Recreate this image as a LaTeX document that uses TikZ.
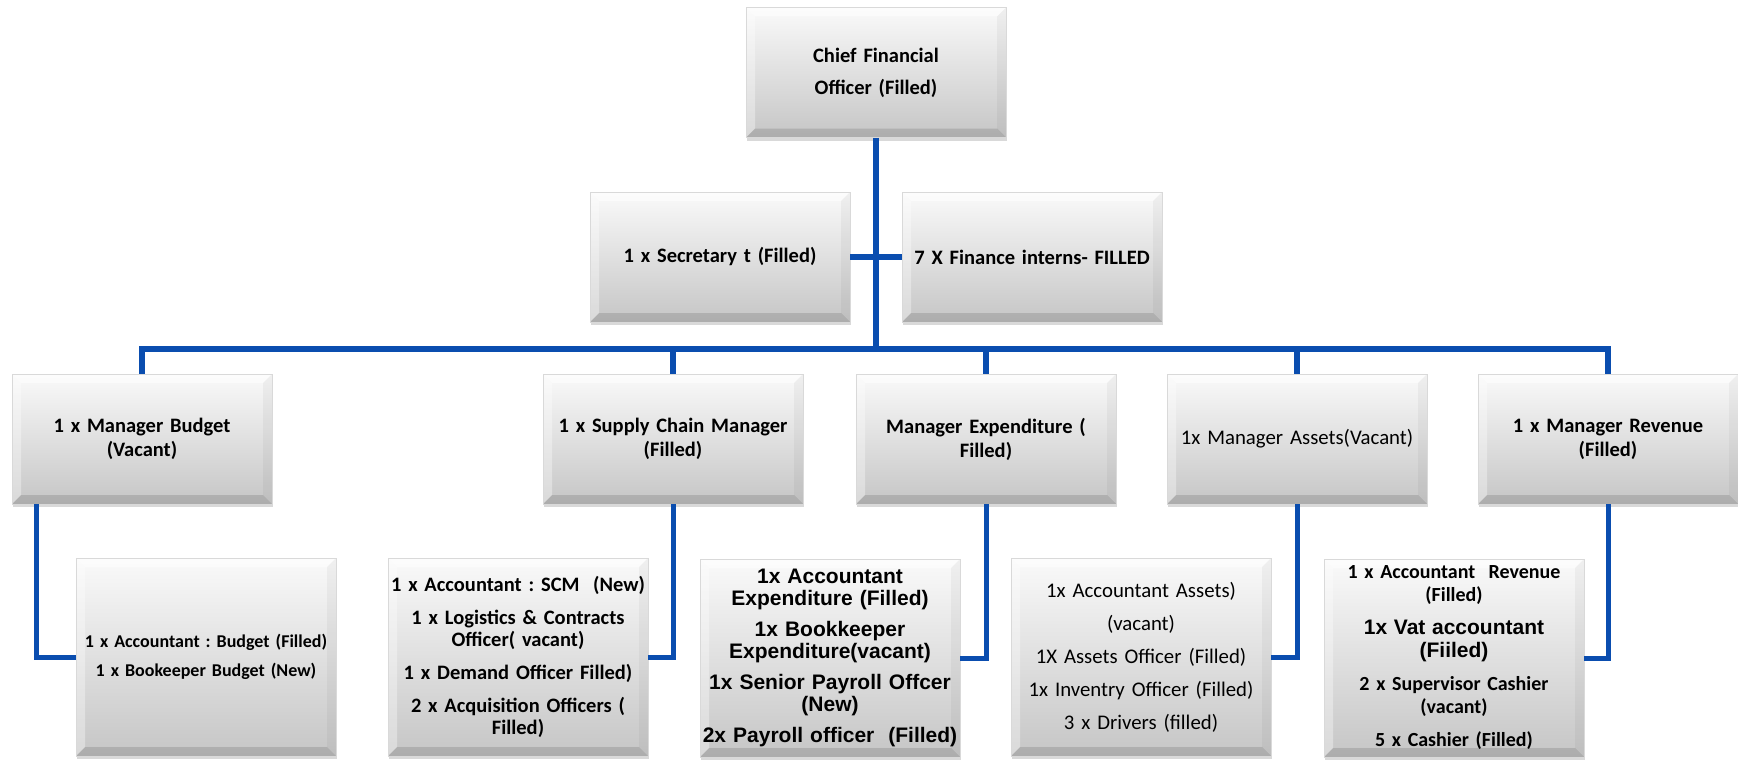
\documentclass[tikz,border=0pt]{standalone}
\usepackage{fontspec}
\setmainfont{Carlito}
\newfontfamily\arialfont{Liberation Sans}
\usetikzlibrary{shadows,calc}
\frenchspacing
\definecolor{linkblue}{HTML}{0A4DAF}
\tikzset{
  orgbox/.style={rectangle, draw=gray!30, line width=0.6pt,
    top color=gray!4, bottom color=gray!45,
    minimum width=260pt, minimum height=130pt, inner sep=0pt,
    align=center, text width=258pt,
    drop shadow={shadow xshift=1pt, shadow yshift=-3pt, opacity=0.3, fill=gray},
    path picture={
      \fill[white,opacity=0.5] (path picture bounding box.north west) -- (path picture bounding box.north east)
        -- ([xshift=-9pt,yshift=-9pt]path picture bounding box.north east) -- ([xshift=9pt,yshift=-9pt]path picture bounding box.north west) -- cycle;
      \fill[white,opacity=0.35] (path picture bounding box.north west) -- (path picture bounding box.south west)
        -- ([xshift=9pt,yshift=9pt]path picture bounding box.south west) -- ([xshift=9pt,yshift=-9pt]path picture bounding box.north west) -- cycle;
      \fill[black,opacity=0.04] (path picture bounding box.north east) -- (path picture bounding box.south east)
        -- ([xshift=-9pt,yshift=9pt]path picture bounding box.south east) -- ([xshift=-9pt,yshift=-9pt]path picture bounding box.north east) -- cycle;
      \fill[black,opacity=0.12] (path picture bounding box.south west) -- (path picture bounding box.south east)
        -- ([xshift=-9pt,yshift=9pt]path picture bounding box.south east) -- ([xshift=9pt,yshift=9pt]path picture bounding box.south west) -- cycle;
    }},
  childbox/.style={orgbox, minimum height=198pt},
  link/.style={draw=linkblue, line width=6pt},
  hook/.style={draw=linkblue, line width=5pt},
  boldtext/.style={font=\bfseries\fontsize{20.5}{24}\selectfont},
  plaintext/.style={font=\fontsize{20.8}{24}\selectfont},
}
\begin{document}
\begin{tikzpicture}[x=1pt,y=-1pt]
\useasboundingbox (0,0) rectangle (1738,760);

% top level
\node[orgbox, boldtext] (cfo) at (876,72.5) {Chief Financial\\[8pt]Officer (Filled)};
\node[orgbox, boldtext] (sec) at (720,257) {1 x Secretary t (Filled)};
\node[orgbox, boldtext] (int) at (1032,257) {7 X Finance interns- FILLED};

% managers
\node[orgbox, boldtext] (mb) at (142,439) {1 x Manager Budget\\(Vacant)};
\node[orgbox, boldtext] (scm) at (673,439) {1 x Supply Chain Manager\\(Filled)};
\node[orgbox, boldtext] (me) at (986,439) {Manager Expenditure (\\Filled)};
\node[orgbox, plaintext] (ma) at (1297,439) {1x Manager Assets(Vacant)};
\node[orgbox, boldtext] (mr) at (1608,439) {1 x Manager Revenue\\(Filled)};

% children
\node[childbox, font=\bfseries\fontsize{18}{22}\selectfont] (cb) at (206,657)
  {1 x Accountant : Budget (Filled)\\[7pt]1 x Bookeeper Budget (New)};
\node[childbox, font=\bfseries\fontsize{20.5}{22}\selectfont] (cs) at (518,657)
  {1 x Accountant : SCM\ \ (New)\\[11pt]1 x Logistics \& Contracts\\Officer( vacant)\\[11pt]1 x Demand Officer Filled)\\[11pt]2 x Acquisition Officers (\\Filled)};
\node[childbox, font=\arialfont\bfseries\fontsize{21}{22}\selectfont] (ce) at (830,658)
  {1x Accountant\\Expenditure (Filled)\\[9pt]1x Bookkeeper\\Expenditure(vacant)\\[9pt]1x Senior Payroll Offcer\\(New)\\[9pt]2x Payroll officer\ \ (Filled)};
\node[childbox, plaintext] (ca) at (1141,657)
  {1x Accountant Assets)\\[9pt](vacant)\\[9pt]1X Assets Officer (Filled)\\[9pt]1x Inventry Officer (Filled)\\[9pt]3 x Drivers (filled)};
\node[childbox, font=\bfseries\fontsize{20}{23}\selectfont] (cr) at (1454,658)
  {1 x Accountant\ \ Revenue\\(Filled)\\[10pt]{\arialfont\fontsize{21}{23}\selectfont 1x Vat accountant\\(Fiiled)}\\[10pt]2 x Supervisor Cashier\\(vacant)\\[10pt]5 x Cashier (Filled)};

% connectors
\coordinate (bus) at (876,349);
\draw[link] (cfo.south) -- (bus);
\draw[link] (sec.east) -- (int.west);
\draw[link] (bus) -| (mb.north);
\draw[link] (bus) -| (mr.north);
\draw[link] (bus) -| (scm.north);
\draw[link] (bus) -| (me.north);
\draw[link] (bus) -| (ma.north);

\draw[hook] ([xshift=25pt]mb.south west) |- (cb.west);
\draw[hook] (scm.south) |- (cs.east);
\draw[hook] (me.south) |- (ce.east);
\draw[hook] (ma.south) |- (ca.east);
\draw[hook] (mr.south) |- (cr.east);
\end{tikzpicture}
\end{document}
